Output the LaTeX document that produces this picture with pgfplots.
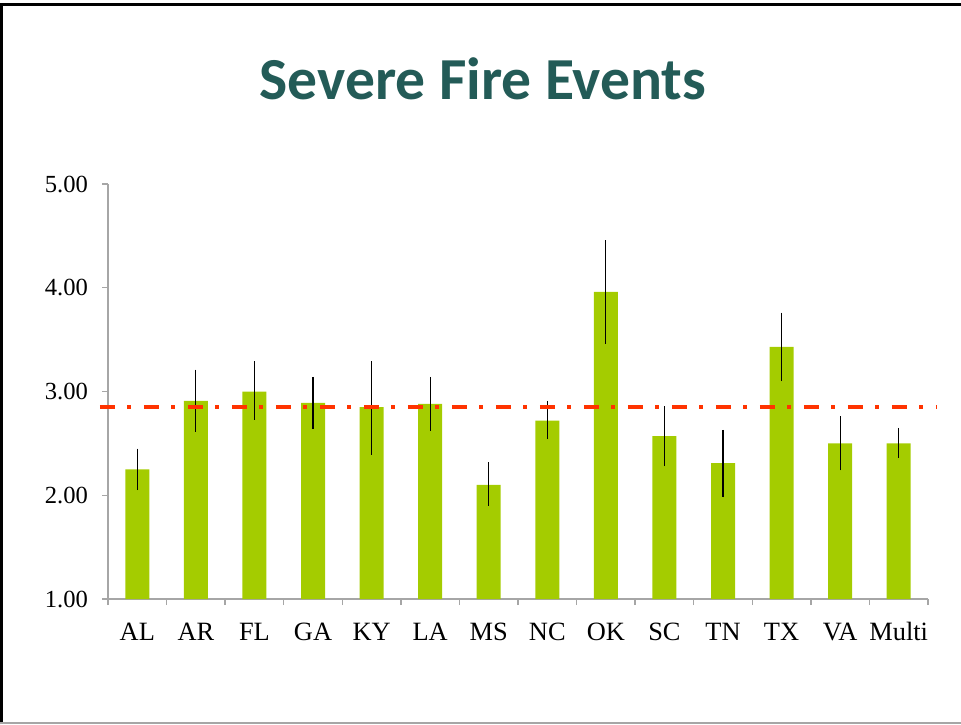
\documentclass[border=0pt]{standalone}
\usepackage{pgfplots}
\pgfplotsset{compat=1.18}
\usepackage{fontspec}
\setmainfont{Liberation Serif}
\newfontfamily\titlefont{Carlito}
\definecolor{barg}{HTML}{A4CC00}
\definecolor{titlecol}{HTML}{235B57}
\definecolor{refred}{HTML}{FF3300}
\definecolor{axgray}{HTML}{A6A6A6}
\begin{document}
\begin{tikzpicture}
\begin{scope}[x=0.5pt,y=0.5pt]
\path[use as bounding box] (0,0) rectangle (961,724);
\draw[black, line width=1.5pt] (1.5,0) -- (1.5,719) -- (961,719);
\draw[axgray, line width=0.6pt] (0,1) -- (961,1);
\node[font=\titlefont\bfseries\fontsize{29.8}{34}\selectfont, text=titlecol, anchor=base] at (483,624) {Severe Fire Events};
\end{scope}
\begin{axis}[
  at={(54pt,62.5pt)}, anchor=south west,
  scale only axis, width=410pt, height=207.5pt,
  xmin=-0.5, xmax=13.5, ymin=1, ymax=5,
  axis lines*=left,
  axis line style={axgray, line width=0.7pt},
  every tick/.style={axgray, line width=0.7pt},
  tick align=outside,
  xtick={0,...,13},
  xticklabels={AL,AR,FL,GA,KY,LA,MS,NC,OK,SC,TN,TX,VA,Multi},
  major x tick style={draw=none},
  minor xtick={-0.5,0.5,...,13.5},
  minor tick length=3pt,
  ytick={1,2,3,4,5},
  major tick length=3pt,
  /pgf/number format/.cd, fixed, fixed zerofill, precision=2, assume math mode=true,
  /pgfplots/.cd,
  ticklabel style={text=black},
  yticklabel style={font=\fontsize{12.3}{14}\selectfont, xshift=-3.5pt},
  xticklabel style={font=\fontsize{13.2}{15}\selectfont, yshift=-5pt, text height=9.2pt, text depth=0pt},
  clip=false,
]
\addplot[ybar, bar width=12pt, fill=barg, draw=none,
  error bars/.cd, y dir=both, y explicit, error mark=none,
  error bar style={black, line width=0.6pt}]
  table[x=x, y=y, y error plus=ep, y error minus=em] {
x y ep em
0 2.25 0.20 0.20
1 2.91 0.30 0.30
2 3.00 0.29 0.27
3 2.89 0.25 0.25
4 2.85 0.44 0.46
5 2.88 0.26 0.26
6 2.10 0.22 0.20
7 2.72 0.19 0.18
8 3.96 0.50 0.50
9 2.57 0.29 0.29
10 2.31 0.32 0.33
11 3.43 0.33 0.33
12 2.50 0.26 0.26
13 2.50 0.15 0.14
};
\addplot[refred, line width=2pt, line cap=butt,
  dash pattern=on 7.8pt off 6pt on 1.7pt off 6.5pt]
  coordinates {(-0.64,2.85) (13.65,2.85)};
\end{axis}
\end{tikzpicture}
\end{document}
